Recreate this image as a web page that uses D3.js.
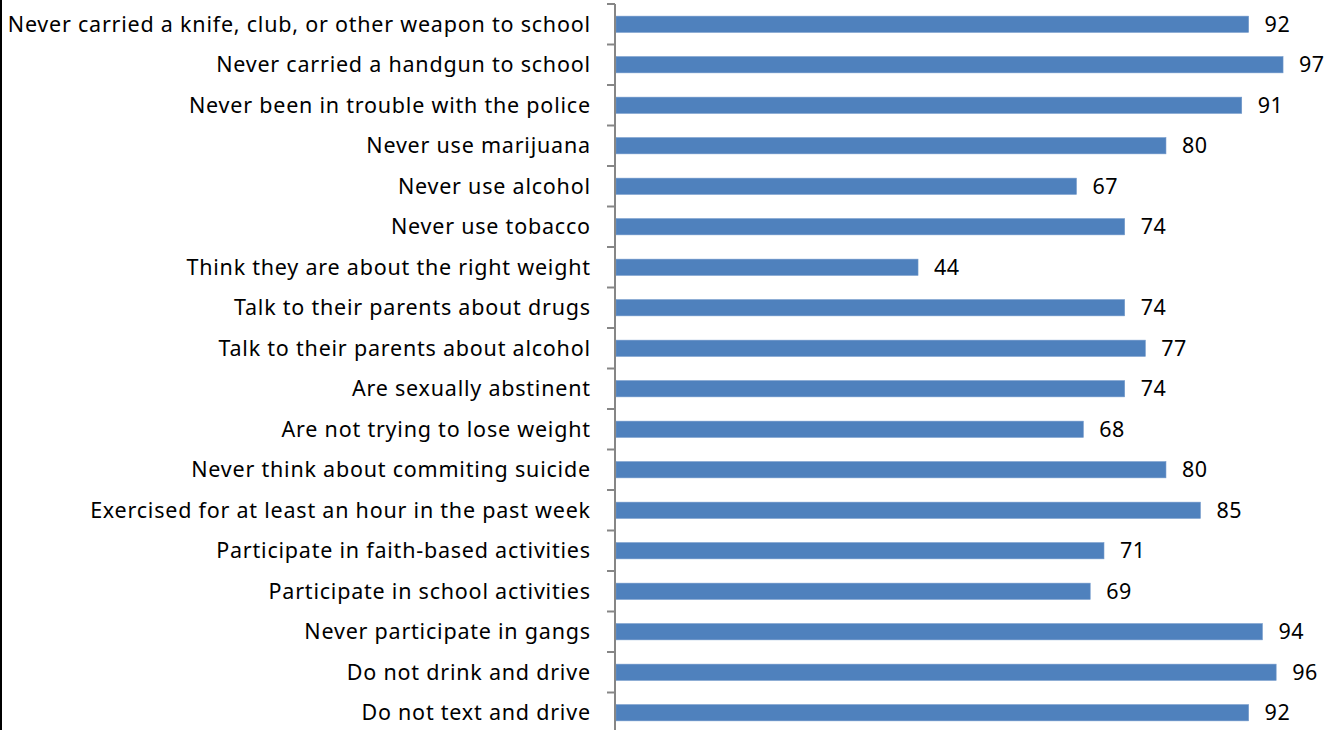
<!DOCTYPE html>
<html><head><meta charset="utf-8">
<script src="https://cdn.jsdelivr.net/npm/d3@7"></script>
<style>body{margin:0;background:#fff}svg{display:block}</style>
</head><body>
<svg id="c" width="1336" height="730"></svg>
<script>
const categories = [
  "Never carried a knife, club, or other weapon to school",
  "Never carried a handgun to school",
  "Never been in trouble with the police",
  "Never use marijuana",
  "Never use alcohol",
  "Never use tobacco",
  "Think they are about the right weight",
  "Talk to their parents about drugs",
  "Talk to their parents about alcohol",
  "Are sexually abstinent",
  "Are not trying to lose weight",
  "Never think about commiting suicide",
  "Exercised for at least an hour in the past week",
  "Participate in faith-based activities",
  "Participate in school activities",
  "Never participate in gangs",
  "Do not drink and drive",
  "Do not text and drive"
];
const values = [92, 97, 91, 80, 67, 74, 44, 74, 77, 74, 68, 80, 85, 71, 69, 94, 96, 92];

const svg = d3.select("#c");
const font = "'Noto Sans', 'Open Sans', sans-serif";
const x = d3.scaleLinear().domain([0, 100]).range([615, 1303.7]);
const y = d3.scaleBand().domain(categories).range([4, 4 + 40.5 * 18]).paddingInner(0.6).paddingOuter(0.3);

// left border
svg.append("line").attr("x1", 1).attr("x2", 1).attr("y1", 0).attr("y2", 730)
  .attr("stroke", "#000").attr("stroke-width", 2);

// bars
svg.append("g").selectAll("rect").data(values).join("rect")
  .attr("x", x(0) + 1)
  .attr("y", (d, i) => y(categories[i]))
  .attr("width", d => x(d) - x(0) - 1)
  .attr("height", y.bandwidth())
  .attr("fill", "#4F81BD")
  .attr("stroke", "#6f97c9").attr("stroke-width", 0.6);

// axis
const step = 40.5;
const ax = svg.append("g");
ax.append("line").attr("x1", x(0)).attr("x2", x(0)).attr("y1", 4).attr("y2", 730)
  .attr("stroke", "#868686").attr("stroke-width", 2);
ax.selectAll("line.t").data(d3.range(categories.length + 1)).join("line").attr("class", "t")
  .attr("x1", x(0) - 8).attr("x2", x(0))
  .attr("y1", i => 4 + i * step).attr("y2", i => 4 + i * step)
  .attr("stroke", "#868686").attr("stroke-width", 2);

// category labels
svg.append("g").selectAll("text").data(categories).join("text")
  .attr("x", 590.8).attr("y", d => y(d) + y.bandwidth() / 2)
  .attr("dy", "0.36em").attr("text-anchor", "end")
  .attr("font-family", font).attr("font-size", 21.5).attr("letter-spacing", 0.78).attr("fill", "#000")
  .text(d => d);

// value labels
svg.append("g").selectAll("text").data(values).join("text")
  .attr("x", d => x(d) + 16).attr("y", (d, i) => y(categories[i]) + y.bandwidth() / 2)
  .attr("dy", "0.36em")
  .attr("font-family", font).attr("font-size", 21.5).attr("letter-spacing", 0.5).attr("fill", "#000")
  .text(d => d);
</script>
</body></html>
